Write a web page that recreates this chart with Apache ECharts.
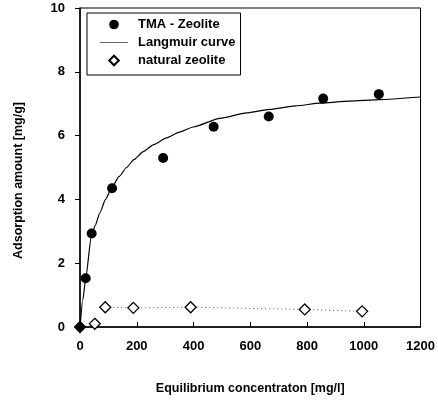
<!DOCTYPE html>
<html lang="en">
<head>
<meta charset="utf-8">
<title>Adsorption isotherm</title>
<script src="https://cdn.jsdelivr.net/npm/echarts@6/dist/echarts.min.js"></script>
<style>
  html, body { margin: 0; padding: 0; background: #fff; }
  #chart { width: 438px; height: 400px; }
</style>
</head>
<body>
<div id="chart"></div>
<script>
  // TMA - Zeolite, measured points
  var tmaConc = [20, 41, 113, 293, 471, 665, 857, 1053];
  var tmaAmount = [1.53, 2.93, 4.35, 5.3, 6.28, 6.6, 7.16, 7.3];
  // natural zeolite, measured points
  var natConc = [0, 52, 89, 188, 390, 792, 994];
  var natAmount = [0, 0.1, 0.62, 0.6, 0.62, 0.55, 0.49];
  // Langmuir curve
  var curveConc = [0, 10, 20, 40, 53, 70, 90, 112, 138, 164, 190, 223, 260, 305, 350, 399, 493, 587, 669, 760, 845, 950, 1056, 1200];
  var curveAmount = [0, 0.85, 1.52, 2.85, 3.17, 3.58, 4.0, 4.37, 4.72, 5.0, 5.25, 5.5, 5.72, 5.93, 6.11, 6.27, 6.54, 6.71, 6.82, 6.93, 7.02, 7.08, 7.13, 7.21];
  // axis ticks
  var xTicks = [0, 200, 400, 600, 800, 1000, 1200];
  var yTicks = [0, 2, 4, 6, 8, 10];

  function zip(xs, ys) {
    var out = [];
    for (var i = 0; i < xs.length; i++) out.push([xs[i], ys[i]]);
    return out;
  }

  var font = 'Liberation Sans, Arial, sans-serif';
  var chart = echarts.init(document.getElementById('chart'));

  // first natural zeolite point sits on the origin and is drawn filled
  var natPoints = zip(natConc, natAmount).map(function (p, i) {
    return i === 0 ? { value: p, itemStyle: { color: '#000' } } : p;
  });

  chart.setOption({
    animation: false,
    backgroundColor: '#fff',
    grid: {
      left: 80, right: 17, top: 8, bottom: 72,
      show: true, borderColor: '#000', borderWidth: 1
    },
    legend: {
      left: 87, top: 13,
      orient: 'vertical',
      padding: [5, 5, 8, 12],
      itemGap: 5,
      itemWidth: 28, itemHeight: 12,
      borderColor: '#000', borderWidth: 1,
      backgroundColor: '#fff',
      textStyle: { fontFamily: font, fontWeight: 'bold', fontSize: 13, color: '#000', padding: [0, 0, 0, 5] },
      data: [
        { name: 'TMA - Zeolite' },
        { name: 'Langmuir curve', itemStyle: { opacity: 0 }, lineStyle: { color: '#666', width: 1 } },
        { name: 'natural zeolite' }
      ]
    },
    xAxis: {
      type: 'value',
      min: xTicks[0], max: xTicks[xTicks.length - 1], interval: xTicks[1] - xTicks[0],
      name: 'Equilibrium concentraton [mg/l]',
      nameLocation: 'middle', nameGap: 55,
      nameTextStyle: { fontFamily: font, fontWeight: 'bold', fontSize: 12.5, color: '#000' },
      axisLine: { onZero: false, lineStyle: { color: '#000', width: 1.5 } },
      axisTick: { inside: true, length: 5, lineStyle: { color: '#000' } },
      axisLabel: {
        margin: 13, fontFamily: font, fontWeight: 'bold', fontSize: 13, color: '#000',
        formatter: function (v) { return String(v); }
      },
      splitLine: { show: false }
    },
    yAxis: {
      type: 'value',
      min: yTicks[0], max: yTicks[yTicks.length - 1], interval: yTicks[1] - yTicks[0],
      name: 'Adsorption amount [mg/g]',
      nameLocation: 'middle', nameGap: 55,
      nameTextStyle: { fontFamily: font, fontWeight: 'bold', fontSize: 12.5, color: '#000', padding: [0, 26, 0, 0] },
      axisLine: { onZero: false, lineStyle: { color: '#000', width: 1.5 } },
      axisTick: { inside: false, length: 5, lineStyle: { color: '#000' } },
      axisLabel: {
        margin: 15, fontFamily: font, fontWeight: 'bold', fontSize: 13, color: '#000',
        formatter: function (v) { return String(v); }
      },
      splitLine: { show: false }
    },
    series: [
      {
        name: 'Langmuir curve',
        type: 'line',
        data: zip(curveConc, curveAmount),
        smooth: 0.2,
        smoothMonotone: 'x',
        symbol: 'none',
        lineStyle: { color: '#000', width: 1.2 },
        itemStyle: { color: '#000' },
        z: 2
      },
      {
        name: 'natural line',
        type: 'line',
        data: zip(natConc.slice(2), natAmount.slice(2)),
        symbol: 'none',
        lineStyle: { color: '#555', width: 1, type: [1, 3] },
        z: 2
      },
      {
        name: 'TMA - Zeolite',
        type: 'line',
        data: zip(tmaConc, tmaAmount),
        symbol: 'circle',
        symbolSize: 10,
        showAllSymbol: true,
        lineStyle: { opacity: 0 },
        itemStyle: { color: '#000', opacity: 1 },
        z: 3
      },
      {
        name: 'natural zeolite',
        type: 'line',
        data: natPoints,
        symbol: 'diamond',
        symbolSize: 11,
        showAllSymbol: true,
        lineStyle: { opacity: 0 },
        itemStyle: { color: '#fff', borderColor: '#000', borderWidth: 1.3, opacity: 1 },
        z: 4
      }
    ]
  });
</script>
</body>
</html>
